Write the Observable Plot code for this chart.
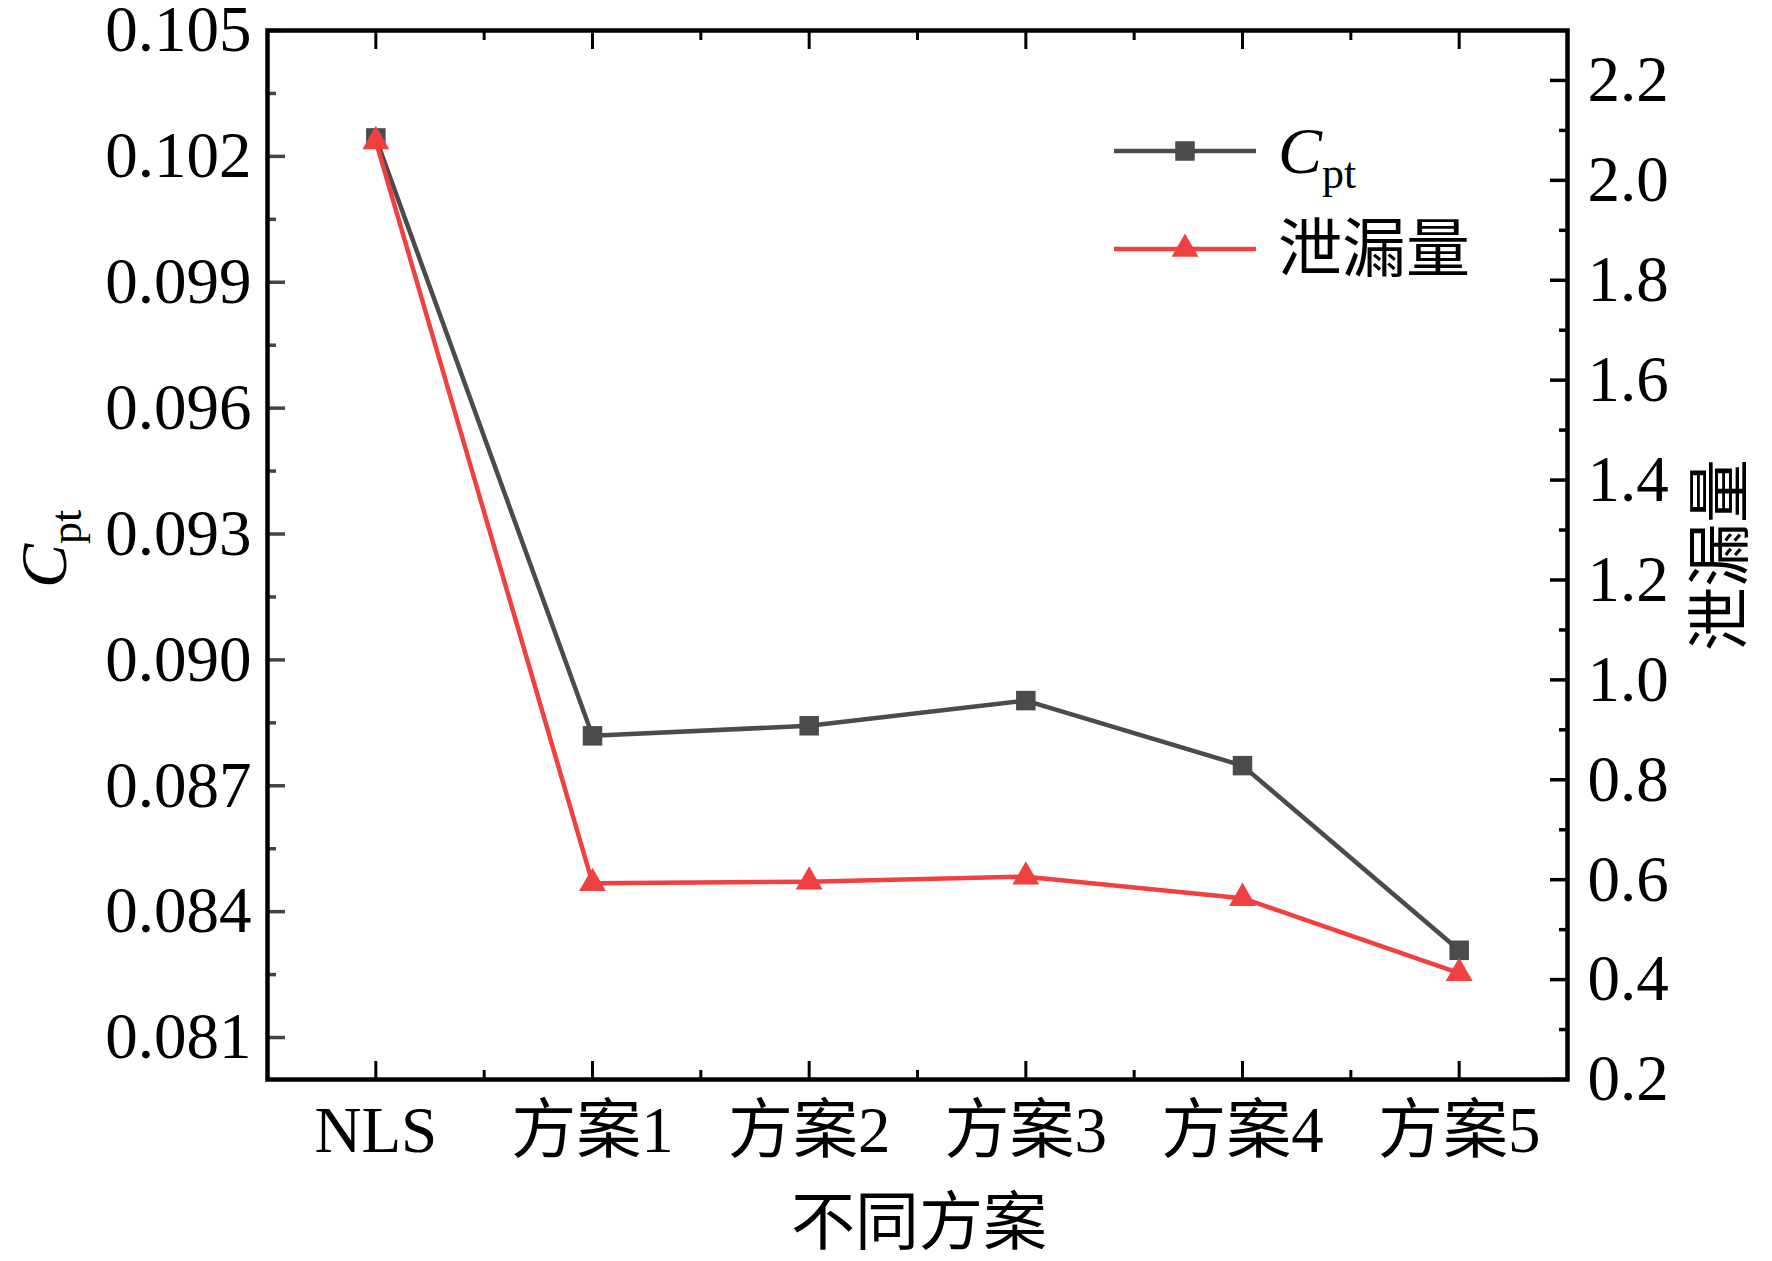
<!DOCTYPE html>
<html>
<head>
<meta charset="utf-8">
<script src="https://cdn.jsdelivr.net/npm/d3@7"></script>
<script src="https://cdn.jsdelivr.net/npm/@observablehq/plot@0.6"></script>
<style>
  html, body { margin: 0; padding: 0; background: #fff; }
  #chart svg { display: block; }
</style>
</head>
<body>
<div id="chart"></div>
<script>
// ---- data ----
const categories = ["NLS", "方案1", "方案2", "方案3", "方案4", "方案5"];
const cptValues  = [0.10244, 0.08819, 0.08843, 0.08903, 0.08748, 0.08308];
const leakValues = [2.078, 0.593, 0.596, 0.606, 0.563, 0.413];

const cptDomain  = [0.080, 0.105];
const leakDomain = [0.2, 2.3];
const leftTicks  = [0.081, 0.084, 0.087, 0.090, 0.093, 0.096, 0.099, 0.102, 0.105];
const leftMinor  = [0.0825, 0.0855, 0.0885, 0.0915, 0.0945, 0.0975, 0.1005, 0.1035];
const rightTicks = [0.2, 0.4, 0.6, 0.8, 1.0, 1.2, 1.4, 1.6, 1.8, 2.0, 2.2];
const rightMinor = [0.3, 0.5, 0.7, 0.9, 1.1, 1.3, 1.5, 1.7, 1.9, 2.1];
const xMajor     = [0, 1, 2, 3, 4, 5];
const xMinor     = [0.5, 1.5, 2.5, 3.5, 4.5];

const seriesNames = ["C", "泄漏量"];
const xTitle = "不同方案";
const rightTitle = "泄漏量";

// ---- styles ----
const W = 1772, H = 1261;
const mL = 267, mR = 205, mT = 30, mB = 182;
const FONT = "'Liberation Serif', 'Times New Roman', 'Noto Sans CJK SC', serif";
const GRAY = "#4b4b4b";
const RED = "#f0403f";
const LW = 4.5;

const leakToY = d3.scaleLinear(leakDomain, cptDomain);
const rows = categories.map((c, i) => ({i, c, cpt: cptValues[i], leak: leakValues[i]}));
const blank = () => "";

const plot = Plot.plot({
  width: W, height: H,
  marginLeft: mL, marginRight: mR, marginTop: mT, marginBottom: mB,
  style: {fontFamily: FONT, fontSize: "65px", background: "#fff", color: "#000", overflow: "visible"},
  x: {domain: [-0.5, 5.5]},
  y: {domain: cptDomain},
  marks: [
    // left axis
    Plot.axisY(leftTicks, {anchor: "left", tickSize: 0, tickPadding: 16, tickFormat: d3.format(".3f"), label: null}),
    Plot.axisY(leftTicks, {anchor: "left", tickSize: -18, tickFormat: blank, label: null, strokeWidth: 3.5, stroke: "#444"}),
    Plot.axisY(leftMinor, {anchor: "left", tickSize: -9, tickFormat: blank, label: null, strokeWidth: 3.5, stroke: "#444"}),
    // right axis
    Plot.axisY(rightTicks.map(leakToY), {anchor: "right", tickSize: 0, tickPadding: 20, tickFormat: d => leakToY.invert(d).toFixed(1), label: null}),
    Plot.axisY(rightTicks.map(leakToY), {anchor: "right", tickSize: -18, tickFormat: blank, label: null, strokeWidth: 3.5}),
    Plot.axisY(rightMinor.map(leakToY), {anchor: "right", tickSize: -9, tickFormat: blank, label: null, strokeWidth: 3.5}),
    // bottom axis
    Plot.axisX(xMajor, {anchor: "bottom", tickSize: 0, tickPadding: 26, tickFormat: i => categories[i], label: null}),
    Plot.axisX(xMajor, {anchor: "bottom", tickSize: -18, tickFormat: blank, label: null, strokeWidth: 3}),
    Plot.axisX(xMinor, {anchor: "bottom", tickSize: -9, tickFormat: blank, label: null, strokeWidth: 3}),
    // top axis
    Plot.axisX(xMajor, {anchor: "top", tickSize: -18, tickFormat: blank, label: null, strokeWidth: 3}),
    Plot.axisX(xMinor, {anchor: "top", tickSize: -9, tickFormat: blank, label: null, strokeWidth: 3}),
    // series
    Plot.line(rows, {x: "i", y: "cpt", stroke: GRAY, strokeWidth: LW}),
    Plot.dot(rows, {x: "i", y: "cpt", symbol: "square", r: 11, fill: GRAY, stroke: "none"}),
    Plot.line(rows, {x: "i", y: d => leakToY(d.leak), stroke: RED, strokeWidth: LW}),
    Plot.dot(rows, {x: "i", y: d => leakToY(d.leak), symbol: "triangle", r: 10, fill: RED, stroke: "none"}),
    Plot.frame({stroke: "#000", strokeWidth: 4.5})
  ]
});

document.getElementById("chart").appendChild(plot);

// ---- titles and legend ----
const svg = d3.select(plot);
const g = svg.append("g").attr("font-family", FONT).attr("fill", "#000").attr("text-anchor", "start");

// left title: C_pt (rotated)
const lt = g.append("text")
  .attr("transform", "translate(66,588) rotate(-90)")
  .attr("text-anchor", "start")
  .attr("font-size", 66);
lt.append("tspan").attr("font-style", "italic").text("C");
lt.append("tspan").attr("font-size", 44).attr("dy", 15).text("pt");

// right title
g.append("text")
  .attr("transform", "translate(1720,555) rotate(-90)")
  .attr("text-anchor", "middle")
  .attr("dominant-baseline", "central")
  .attr("font-size", 64)
  .text(rightTitle);

// x title
g.append("text")
  .attr("x", 919).attr("y", 1222)
  .attr("text-anchor", "middle")
  .attr("dominant-baseline", "central")
  .attr("font-size", 64)
  .text(xTitle);

// legend
const lg = g.append("g");
const lx1 = 1114, lx2 = 1256, lmx = 1185, ltx = 1278;
const ly1 = 151, ly2 = 249;
lg.append("line").attr("x1", lx1).attr("x2", lx2).attr("y1", ly1).attr("y2", ly1)
  .attr("stroke", GRAY).attr("stroke-width", LW);
lg.append("path").attr("transform", `translate(${lmx},${ly1})`)
  .attr("d", d3.symbol(d3.symbolSquare, 11 * 11 * Math.PI)()).attr("fill", GRAY);
const t1 = lg.append("text").attr("x", ltx).attr("y", ly1 + 22).attr("text-anchor", "start").attr("font-size", 66);
t1.append("tspan").attr("font-style", "italic").text(seriesNames[0]);
t1.append("tspan").attr("font-size", 44).attr("dy", 15).text("pt");

lg.append("line").attr("x1", lx1).attr("x2", lx2).attr("y1", ly2).attr("y2", ly2)
  .attr("stroke", RED).attr("stroke-width", LW);
lg.append("path").attr("transform", `translate(${lmx},${ly2})`)
  .attr("d", d3.symbol(d3.symbolTriangle, 10 * 10 * Math.PI)()).attr("fill", RED);
lg.append("text").attr("x", ltx).attr("y", ly2).attr("text-anchor", "start").attr("dominant-baseline", "central")
  .attr("font-size", 64).text(seriesNames[1]);
</script>
</body>
</html>
